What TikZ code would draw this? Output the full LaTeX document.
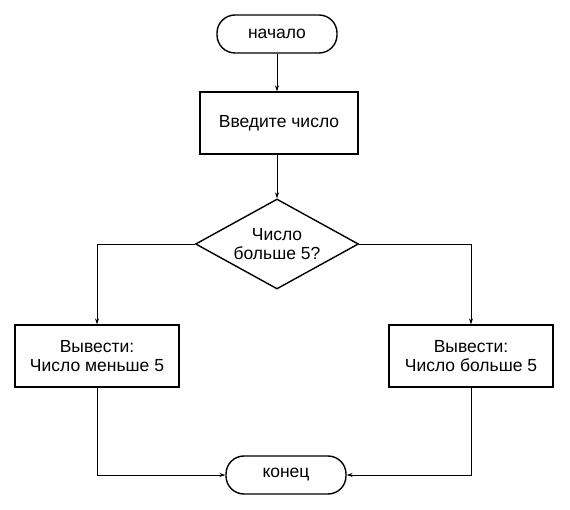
\documentclass[tikz,border=0pt]{standalone}
\usepackage{fontspec}
\setmainfont{Liberation Sans}
\usetikzlibrary{arrows.meta, positioning, shapes.geometric}

\begin{document}
\begin{tikzpicture}[
    x=1pt, y=-1pt,
    font=\fontsize{17.5}{19}\selectfont,
    terminal/.style={rectangle, draw, line width=1.4pt, rounded corners=18pt, minimum width=120pt, minimum height=38pt, align=center},
    process/.style={rectangle, draw, line width=1.4pt, minimum width=158pt, minimum height=62pt, align=center},
    output/.style={rectangle, draw, line width=1.4pt, minimum width=164pt, minimum height=62pt, align=center},
    decision/.style={diamond, draw, line width=1.4pt, aspect=1.8, inner sep=0pt, minimum width=163pt, minimum height=90pt, align=center},
    arrow/.style={-{Stealth[length=6pt, width=4pt]}, line width=0.7pt},
]
\useasboundingbox (0,0) rectangle (570,510);

% Nodes
\node[terminal] (start) at (277,34) {начало};
\node[process] (input) at (279,123) {Введите число};
\node[decision] (check) at (277,244) {Число\\больше 5?};
\node[output] (less) at (97,356) {Вывести:\\Число меньше 5};
\node[output] (more) at (471,356) {Вывести:\\Число больше 5};
\node[terminal] (stop) at (286,475) {конец};

% Arrows
\draw[arrow] (start) -- (start |- input.north);
\draw[arrow] (input.south -| start) -- (start |- check.north);
\draw[arrow] (check.west) -| (less.north);
\draw[arrow] (check.east) -| (more.north);
\draw[arrow] (less.south) |- (stop.west);
\draw[arrow] (more.south) |- (stop.east);

\end{tikzpicture}
\end{document}
